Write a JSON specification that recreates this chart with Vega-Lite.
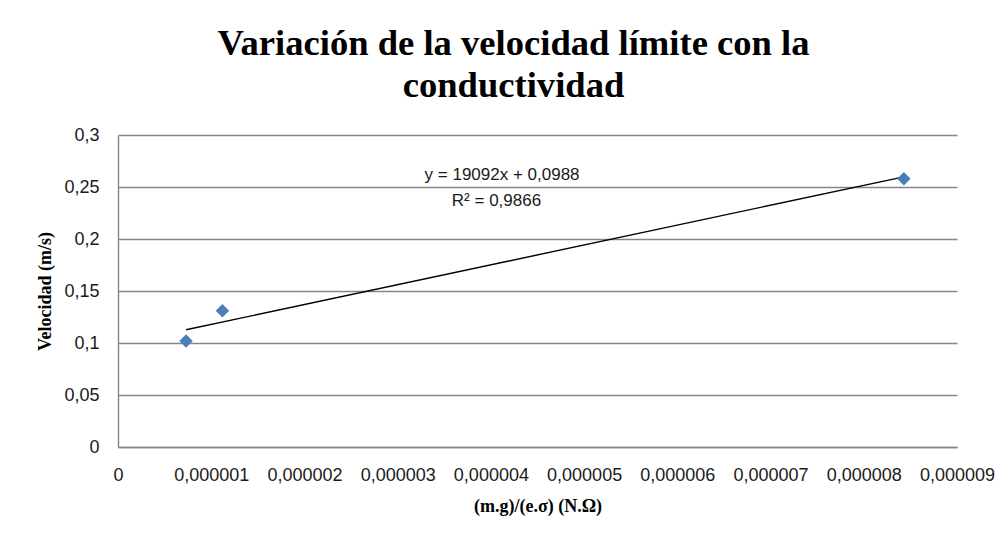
{
  "$schema": "https://vega.github.io/schema/vega-lite/v6.json",
  "autosize": {"type": "none"},
  "width": 839,
  "height": 312,
  "padding": {"left": 118, "top": 135, "right": 51, "bottom": 94},
  "background": "white",
  "title": {
    "text": ["Variación de la velocidad límite con la", "conductividad"],
    "font": "Liberation Serif",
    "fontSize": 36.6,
    "fontWeight": "bold",
    "color": "black",
    "lineHeight": 42,
    "anchor": "middle",
    "dx": -24,
    "offset": 21
  },
  "datasets": {
    "pts": [
      {"x": 0.00000073, "y": 0.102},
      {"x": 0.00000112, "y": 0.131},
      {"x": 0.00000843, "y": 0.258}
    ],
    "trend": [
      {"x": 0.00000073, "y": 0.11274},
      {"x": 0.00000843, "y": 0.25975}
    ],
    "ann": [
      {"x": 0.00000412, "y": 0.2615, "label": "y = 19092x + 0,0988"},
      {"x": 0.00000406, "y": 0.2365, "label": "R² = 0,9866"}
    ]
  },
  "layer": [
    {
      "data": {"name": "trend"},
      "mark": {"type": "line", "color": "black", "strokeWidth": 1.4},
      "encoding": {
        "x": {
          "field": "x", "type": "quantitative",
          "scale": {"domain": [0, 0.000009], "nice": false, "zero": false},
          "axis": {
            "title": "(m.g)/(e.σ) (N.Ω)",
            "values": [0, 0.000001, 0.000002, 0.000003, 0.000004, 0.000005, 0.000006, 0.000007, 0.000008, 0.000009],
            "labelExpr": "datum.value == 0 ? '0' : replace(format(datum.value, '.6f'), '.', ',')",
            "grid": false,
            "ticks": false,
            "labelPadding": 19,
            "labelOverlap": false,
            "labelFlush": false,
            "labelBound": false,
            "domainColor": "#868686",
            "domainWidth": 1.4,
            "labelFont": "Liberation Sans",
            "labelFontSize": 18,
            "labelColor": "#1a1a1a",
            "titleFont": "Liberation Serif",
            "titleFontSize": 18,
            "titleFontWeight": "bold",
            "titleColor": "black",
            "titlePadding": 13
          }
        },
        "y": {
          "field": "y", "type": "quantitative",
          "scale": {"domain": [0, 0.3], "nice": false},
          "axis": {
            "title": "Velocidad (m/s)",
            "values": [0, 0.05, 0.1, 0.15, 0.2, 0.25, 0.3],
            "labelExpr": "replace(format(datum.value, '~f'), '.', ',')",
            "grid": true,
            "gridColor": "#868686",
            "gridWidth": 1.4,
            "ticks": false,
            "labelPadding": 19,
            "labelOverlap": false,
            "labelFlush": false,
            "domainColor": "#868686",
            "domainWidth": 1.4,
            "labelFont": "Liberation Sans",
            "labelFontSize": 18,
            "labelColor": "#1a1a1a",
            "titleFont": "Liberation Serif",
            "titleFontSize": 18,
            "titleFontWeight": "bold",
            "titleColor": "black",
            "titleX": -64,
            "titleY": 156,
            "titleAnchor": "middle"
          }
        }
      }
    },
    {
      "data": {"name": "pts"},
      "mark": {"type": "point", "shape": "diamond", "filled": true, "size": 180, "color": "#4A7EBB", "opacity": 1},
      "encoding": {
        "x": {"field": "x", "type": "quantitative"},
        "y": {"field": "y", "type": "quantitative"}
      }
    },
    {
      "data": {"name": "ann"},
      "mark": {"type": "text", "font": "Liberation Sans", "fontSize": 17, "color": "#1a1a1a", "align": "center", "baseline": "middle"},
      "encoding": {
        "x": {"field": "x", "type": "quantitative"},
        "y": {"field": "y", "type": "quantitative"},
        "text": {"field": "label"}
      }
    }
  ],
  "config": {
    "view": {"stroke": null}
  }
}
